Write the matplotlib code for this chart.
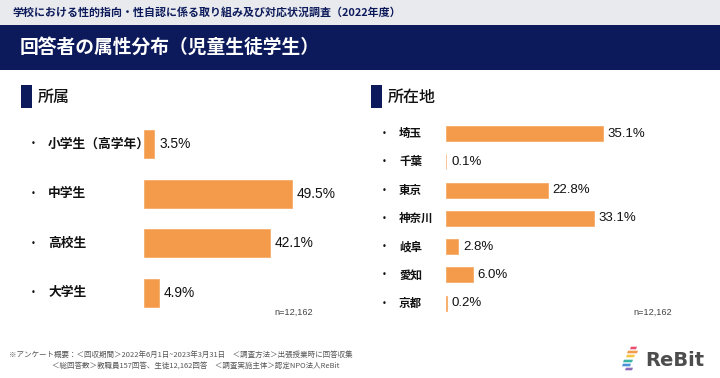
import matplotlib
matplotlib.use('Agg')
from matplotlib import pyplot as plt
from matplotlib.transforms import blended_transform_factory
from matplotlib.patches import Rectangle, Polygon

plt.rcParams['font.family'] = ['Noto Sans CJK JP', 'DejaVu Sans']

# data
grade_labels = ['小学生（高学年）', '中学生', '高校生', '大学生']
grade_values = [3.5, 49.5, 42.1, 4.9]
pref_labels = ['埼玉', '千葉', '東京', '神奈川', '岐阜', '愛知', '京都']
pref_values = [35.1, 0.1, 22.8, 33.1, 2.8, 6.0, 0.2]
n_text = 'n=12,162'

ORANGE = '#F39A4B'
NAVY = '#0C1A5B'
W, H = 720, 378

fig = plt.figure(figsize=(7.2, 3.78), dpi=100)
fig.patch.set_facecolor('white')


def fx(px):
    return px / W


def fy(py):
    return 1 - py / H


def box(x0, y0, x1, y1):
    # pixel box (top-left origin) -> figure rect
    return [fx(x0), fy(y1), fx(x1) - fx(x0), fy(y0) - fy(y1)]


# header bands
fig.patches.append(Rectangle((0, fy(25)), 1, 1 - fy(25), transform=fig.transFigure,
                             facecolor='#E9EAEE', edgecolor='none'))
fig.patches.append(Rectangle((0, fy(70)), 1, fy(25) - fy(70), transform=fig.transFigure,
                             facecolor=NAVY, edgecolor='none'))
fig.text(fx(12), fy(12.5), '学校における性的指向・性自認に係る取り組み及び対応状況調査（2022年度）',
         fontsize=7.9, fontweight='bold', color=NAVY, va='center', ha='left')
fig.text(fx(20), fy(47), '回答者の属性分布（児童生徒学生）',
         fontsize=13.5, fontweight='bold', color='white', va='center', ha='left')

# section headers
for x0, title in [(21, '所属'), (371, '所在地')]:
    fig.patches.append(Rectangle((fx(x0), fy(108)), fx(11), fy(85) - fy(108),
                                 transform=fig.transFigure, facecolor=NAVY, edgecolor='none'))
    fig.text(fx(x0 + 17), fy(97), title, fontsize=11.5, fontweight='medium', color='#111111',
             va='center', ha='left')


def bar_panel(rect, labels, values, xmax, bar_h, bullet_x, label_x, lab_fs, val_fs):
    ax = fig.add_axes(rect)
    y = list(range(len(labels)))
    ax.barh(y, values, height=bar_h, color=ORANGE, edgecolor=ORANGE, linewidth=0.4, zorder=2)
    ax.set_xlim(0, xmax)
    ax.set_ylim(len(labels) - 0.5, -0.5)
    ax.axis('off')
    tr = blended_transform_factory(fig.transFigure, ax.transData)
    for yi, lab, v in zip(y, labels, values):
        fig.text(fx(bullet_x), 0, '•', transform=tr, fontsize=6, color='#111111',
                 va='center', ha='center', family='DejaVu Sans').set_y(yi)
        t = fig.text(fx(label_x), 0, lab, transform=tr, fontsize=lab_fs,
                     fontweight='bold', color='#111111', va='center', ha='left', zorder=3)
        t.set_y(yi)
        ax.annotate(f'{v:.1f}%', (v, yi), xytext=(3.6, 0), textcoords='offset points',
                    va='center', ha='left', fontsize=val_fs, color='#111111',
                    family=['Liberation Sans', 'DejaVu Sans'])
    return ax


# left panel: 所属 (49.5% -> 148 px)
bar_panel(box(144, 119.2, 144 + 299, 317.6), grade_labels, grade_values, 100,
          0.565, 33.5, 48, 9.2, 9.9)
# right panel: 所在地 (35.1% -> 156.5 px)
bar_panel(box(446, 119.4, 446 + 223, 317.4), pref_labels, pref_values, 50,
          0.53, 384, 399, 8.3, 9.5)

fig.text(fx(313), fy(312), n_text, fontsize=6.6, color='#444444', ha='right', va='center',
         family=['Liberation Sans', 'DejaVu Sans'])
fig.text(fx(672), fy(312), n_text, fontsize=6.6, color='#444444', ha='right', va='center',
         family=['Liberation Sans', 'DejaVu Sans'])

# footnote
fig.text(fx(9), fy(355), '※アンケート概要：＜回収期間＞2022年6月1日~2023年3月31日　＜調査方法＞出張授業時に回答収集',
         fontsize=5.4, color='#555555', ha='left', va='center')
fig.text(fx(52), fy(365.5), '＜総回答数＞教職員157回答、生徒12,162回答　＜調査実施主体＞認定NPO法人ReBit',
         fontsize=5.4, color='#555555', ha='left', va='center')

# logo
stripes = [(631, 348, 6, '#E8506E'), (628, 352, 10, '#F39A4B'), (627, 356, 8, '#F5C443'),
           (624, 361, 9, '#3BB3A5'), (623, 365, 8, '#4A90D9'), (626, 369, 7, '#8E6BB8')]
for sx, sy, sw, c in stripes:
    pts = [(fx(sx), fy(sy - 1.3)), (fx(sx + sw), fy(sy - 1.3)),
           (fx(sx + sw - 1), fy(sy + 1.3)), (fx(sx - 1), fy(sy + 1.3))]
    fig.patches.append(Polygon(pts, closed=True, transform=fig.transFigure,
                               facecolor=c, edgecolor='none'))
fig.text(fx(645), fy(360), 'ReBit', fontsize=14, fontweight='bold', color='#4D4D4D',
         ha='left', va='center', family=['DejaVu Sans'])

fig.savefig('out.png', dpi=100)
